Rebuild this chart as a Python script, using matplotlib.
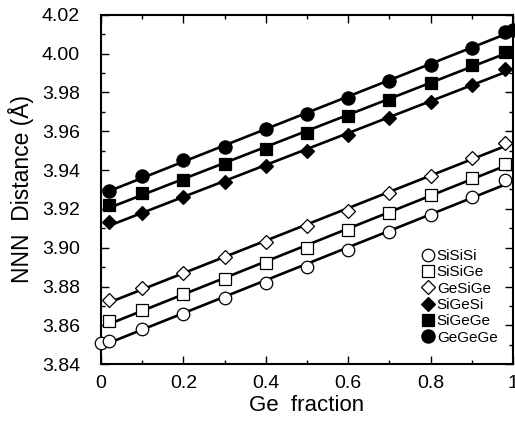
import numpy as np
import matplotlib
matplotlib.use("Agg")
import matplotlib.pyplot as plt
from matplotlib.ticker import MultipleLocator

plt.rcParams['font.family'] = ['Liberation Sans', 'DejaVu Sans']

# Ge fraction
x = [0.02, 0.1, 0.2, 0.3, 0.4, 0.5, 0.6, 0.7, 0.8, 0.9, 0.98]
x_sisisi = [0.0] + x
x_gegege = x + [1.0]

# NNN distances (Angstrom)
sisisi = [3.851, 3.852, 3.858, 3.866, 3.874, 3.882, 3.890, 3.899, 3.908, 3.917, 3.926, 3.935]
sisige = [3.862, 3.868, 3.876, 3.884, 3.892, 3.900, 3.909, 3.918, 3.927, 3.936, 3.943]
gesige = [3.873, 3.879, 3.887, 3.895, 3.903, 3.911, 3.919, 3.928, 3.937, 3.946, 3.954]
sigesi = [3.913, 3.918, 3.926, 3.934, 3.942, 3.950, 3.958, 3.967, 3.975, 3.984, 3.992]
sigege = [3.922, 3.928, 3.935, 3.943, 3.951, 3.959, 3.968, 3.976, 3.985, 3.994, 4.001]
gegege = [3.929, 3.937, 3.945, 3.952, 3.961, 3.969, 3.977, 3.986, 3.994, 4.003, 4.011, 4.012]

series = [
    ("SiSiSi", x_sisisi, sisisi, "o", "none", 9),
    ("SiSiGe", x, sisige, "s", "none", 8),
    ("GeSiGe", x, gesige, "D", "none", 7),
    ("SiGeSi", x, sigesi, "D", "black", 7),
    ("SiGeGe", x, sigege, "s", "black", 8),
    ("GeGeGe", x_gegege, gegege, "o", "black", 9.5),
]

fig, ax = plt.subplots(figsize=(5.15, 4.21), dpi=100)
fig.subplots_adjust(left=0.196, right=0.996, bottom=0.135, top=0.965)

for name, xs, ys, m, fc, ms in series:
    xs = np.array(xs)
    ys = np.array(ys)
    # linear fit line through the points
    k, b = np.polyfit(xs, ys, 1)
    xl = np.array([xs.min(), min(xs.max(), 0.98)])
    ax.plot(xl, k * xl + b, color="black", lw=1.9, zorder=2)
    ax.plot(xs, ys, linestyle="none", marker=m, markersize=ms,
            markerfacecolor=fc if fc != "none" else "white",
            markeredgecolor="black", markeredgewidth=0.9, label=name,
            zorder=3, clip_on=False)

ax.set_xlim(0, 1)
ax.set_ylim(3.84, 4.02)
ax.xaxis.set_minor_locator(MultipleLocator(0.1))
ax.yaxis.set_major_locator(MultipleLocator(0.02))
ax.yaxis.set_minor_locator(MultipleLocator(0.01))
ax.set_xticks([0, 0.2, 0.4, 0.6, 0.8, 1.0])
ax.set_xticklabels(["0", "0.2", "0.4", "0.6", "0.8", "1"])
ax.yaxis.set_major_formatter(matplotlib.ticker.FormatStrFormatter("%.2f"))
ax.tick_params(which="both", direction="in", top=True, right=True, labelsize=14, width=1)
ax.tick_params(which="major", length=6)
ax.tick_params(axis="y", which="major", pad=15)
ax.tick_params(axis="x", which="major", pad=8)
ax.tick_params(which="minor", length=3)
for s in ax.spines.values():
    s.set_linewidth(1.5)

ax.set_xlabel("Ge  fraction", fontsize=16, labelpad=2)
ax.set_ylabel("NNN  Distance (Å)", fontsize=16.5, labelpad=6)

ax.legend(loc="lower right", bbox_to_anchor=(0.985, 0.03), frameon=False,
          fontsize=11, handletextpad=0.05, labelspacing=0.15, handlelength=1.0,
          borderaxespad=0.2)

fig.savefig("out.png", dpi=100)
